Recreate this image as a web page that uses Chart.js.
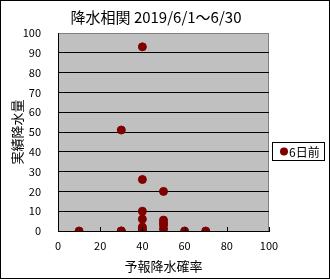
<!DOCTYPE html>
<html><head><meta charset="utf-8">
<script src="https://cdn.jsdelivr.net/npm/chart.js@4"></script>
<style>
html,body{margin:0;padding:0;background:#fff;}
#wrap{position:relative;width:330px;height:279px;box-sizing:border-box;border:1px solid #000;}
canvas{display:block;}
</style></head>
<body><div id="wrap"><canvas id="c" width="328" height="277"></canvas></div>
<script>
const chartTitle = '降水相関 2019/6/1～6/30';
const xTitle = '予報降水確率';
const yTitle = '実績降水量';
const seriesName = '6日前';
const forecastProb = [10, 30, 30, 30, 40, 40, 40, 40, 40, 40, 40, 50, 50, 50, 50, 50, 60, 70];
const actualRain   = [0, 0, 0, 51, 93, 26, 10, 6, 2, 1, 0, 20, 5.5, 4, 3, 1, 0, 0];
const xTicks = [0, 20, 40, 60, 80, 100];
const yTicks = [0, 10, 20, 30, 40, 50, 60, 70, 80, 90, 100];

const FONT = "'Noto Sans CJK JP', 'DejaVu Sans', sans-serif";
const points = forecastProb.map((x, i) => ({x: x, y: actualRain[i]}));

const bgPlugin = {
  id: 'bg',
  beforeDraw(chart) {
    const {ctx, chartArea: a} = chart;
    ctx.save();
    ctx.fillStyle = '#c0c0c0';
    ctx.fillRect(a.left, a.top, a.right - a.left, a.bottom - a.top);
    ctx.strokeStyle = '#808080';
    ctx.lineWidth = 1;
    ctx.strokeRect(a.left + 0.5, a.top + 0.5, a.right - a.left - 1, a.bottom - a.top);
    ctx.restore();
  },
  afterDraw(chart) {
    const {ctx, chartArea: a} = chart;
    ctx.save();
    ctx.fillStyle = '#000';
    ctx.font = '15px ' + FONT;
    ctx.textAlign = 'center';
    ctx.textBaseline = 'middle';
    ctx.fillText(chartTitle, 155, 16);
    const xs = chart.scales.x;
    ctx.strokeStyle = '#000';
    ctx.lineWidth = 1;
    xTicks.forEach(v => {
      const px = Math.round(xs.getPixelForValue(v)) + 0.5;
      ctx.beginPath(); ctx.moveTo(px, a.bottom); ctx.lineTo(px, a.bottom - 4); ctx.stroke();
    });
    ctx.fillStyle = '#fff';
    ctx.fillRect(271, 141, 52, 18);
    ctx.strokeStyle = '#000';
    ctx.strokeRect(271.5, 141.5, 52, 18);
    ctx.fillStyle = '#800000';
    ctx.beginPath(); ctx.arc(283, 150.5, 4, 0, Math.PI * 2); ctx.fill();
    ctx.fillStyle = '#000';
    ctx.font = '12px ' + FONT;
    ctx.textAlign = 'left';
    ctx.fillText(seriesName, 288, 151);
    ctx.restore();
  }
};

new Chart(document.getElementById('c'), {
  type: 'scatter',
  data: {
    datasets: [{
      label: seriesName,
      data: points,
      backgroundColor: '#800000',
      borderColor: '#800000',
      pointRadius: 4,
      pointHoverRadius: 4
    }]
  },
  plugins: [bgPlugin],
  options: {
    responsive: false,
    animation: false,
    events: [],
    layout: {padding: {left: 0, right: 60, top: 32, bottom: 0}},
    plugins: {legend: {display: false}, tooltip: {enabled: false}, title: {display: false}},
    scales: {
      x: {
        type: 'linear', min: 0, max: 100,
        afterBuildTicks: s => { s.ticks = xTicks.map(v => ({value: v})); },
        afterFit: s => { s.height = 47; },
        grid: {display: false, drawTicks: false},
        border: {display: true, color: '#000', width: 1},
        ticks: {color: '#000', font: {family: FONT, size: 11}, padding: 8, maxRotation: 0},
        title: {display: true, text: xTitle, color: '#000', font: {family: FONT, size: 13, lineHeight: 1.2}, padding: {top: 0, bottom: 4}}
      },
      y: {
        type: 'linear', min: 0, max: 100,
        afterBuildTicks: s => { s.ticks = yTicks.map(v => ({value: v})); },
        afterFit: s => { s.width = 57; },
        grid: {display: true, color: c => (c.tick && c.tick.value === 100) ? 'rgba(0,0,0,0)' : '#000', lineWidth: 1, drawTicks: false},
        border: {display: true, color: '#000', width: 1},
        ticks: {color: '#000', font: {family: FONT, size: 11}, padding: 17},
        title: {display: true, text: yTitle, color: '#000', font: {family: FONT, size: 13, lineHeight: 1.2}, padding: {top: 8, bottom: 0}}
      }
    }
  }
});
</script></body></html>
